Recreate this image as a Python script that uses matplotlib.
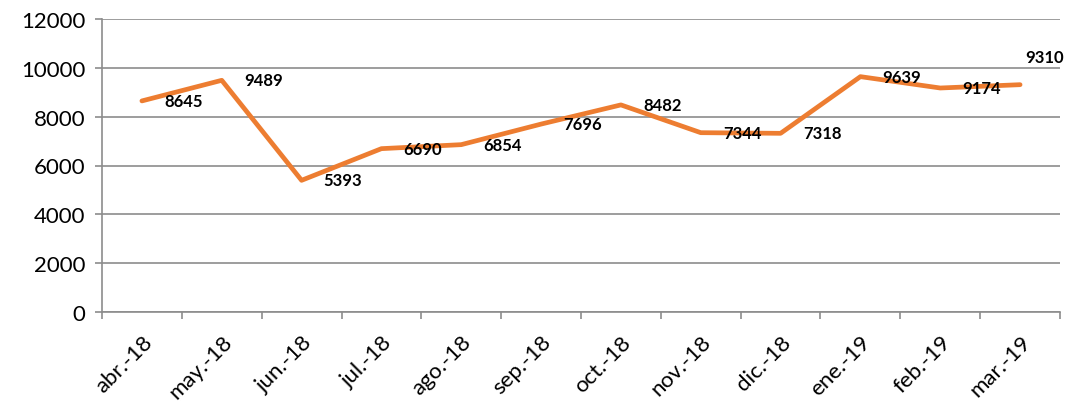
import numpy as np
import matplotlib.pyplot as plt

months = ['abr.-18', 'may.-18', 'jun.-18', 'jul.-18', 'ago.-18', 'sep.-18',
          'oct.-18', 'nov.-18', 'dic.-18', 'ene.-19', 'feb.-19', 'mar.-19']
values = [8645, 9489, 5393, 6690, 6854, 7696, 8482, 7344, 7318, 9639, 9174, 9310]

plt.rcParams['font.family'] = ['Lato', 'DejaVu Sans']

fig = plt.figure(figsize=(10.71, 4.10), dpi=100)
ax = fig.add_axes([102 / 1071, 1 - 313 / 410, (1060 - 102) / 1071, (313 - 20) / 410])

x = np.arange(len(months))
ax.plot(x, values, color='#ED7D31', lw=3.4, solid_capstyle='round',
        solid_joinstyle='round', zorder=3)

# data labels to the right of each point, last one nudged up
for i, v in enumerate(values):
    if i == len(values) - 1:
        off = (4, 20)
    else:
        off = (16, 0)
    ax.annotate(str(v), (i, v), xytext=off, textcoords='offset points',
                ha='left', va='center', fontsize=12, fontweight='bold',
                color='black', zorder=4)

ax.set_xlim(-0.5, len(months) - 0.5)
ax.set_ylim(0, 12000)
ax.set_yticks(range(0, 12001, 2000))
ax.tick_params(axis='y', labelsize=16, length=5, width=1.2, color='#8c8c8c', pad=7)

ax.set_xticks(np.arange(-0.5, len(months), 1))
ax.set_xticklabels([])
ax.tick_params(axis='x', which='major', length=5, width=1.2, color='#8c8c8c')
ax.set_xticks(x, minor=True)
ax.set_xticklabels(months, minor=True, rotation=45, ha='right',
                   rotation_mode='anchor', fontsize=16)
ax.tick_params(axis='x', which='minor', length=0, pad=14)

ax.grid(axis='y', color='#8c8c8c', lw=1.2)
ax.set_axisbelow(True)
for s in ['top', 'right']:
    ax.spines[s].set_visible(False)
for s in ['left', 'bottom']:
    ax.spines[s].set_color('#8c8c8c')
    ax.spines[s].set_linewidth(1.2)

fig.savefig('out.png', dpi=100)
